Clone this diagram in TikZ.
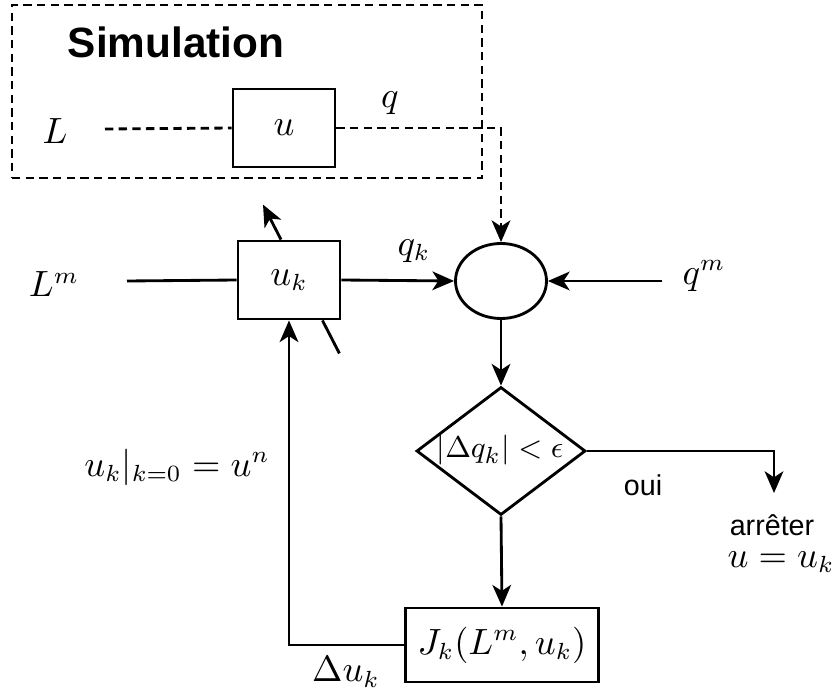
\documentclass[tikz,border=0pt]{standalone}
\usepackage{amsmath,amssymb}
\usepackage{fontspec}
\newfontfamily\arialfont{Liberation Sans}
\usepackage{tikz}
\usetikzlibrary{calc,shapes.geometric,arrows.meta}

\begin{document}
\begin{tikzpicture}[x=0.3pt, y=-0.3pt, >={Stealth[length=6.5pt,width=5.6pt,inset=1.8pt]}, line width=0.85pt,
		block/.style={draw, rectangle, inner sep=0pt, font=\fontsize{10.5}{12}\selectfont},
		lbl/.style={font=\fontsize{10.5}{12}\selectfont, inner sep=1pt},
		txt/.style={font=\arialfont\fontsize{8.6}{10}\selectfont, inner sep=1pt},
		simdash/.style={dash pattern=on 2.5pt off 1.6pt}]
		% 1. 画布
		\useasboundingbox (0,0) rectangle (832,688);
		
		% 2. 仿真框
		\node[draw, simdash, minimum width=141pt, minimum height=51.9pt, inner sep=0pt] (sim) at (247,91.5) {};
		\node[font=\arialfont\bfseries\fontsize{12.7}{15}\selectfont] (simtitle) at (176,42) {Simulation};
		\node[block, minimum width=30.6pt, minimum height=23.4pt] (boxU) at (284,128) {$u$};
		\node[lbl] (labL) at (55,131) {$L$};
		\node[lbl] (labq) at (390,103) {$q$};
		\coordinate (Lin) at (105,129);
		\draw[simdash] (Lin) -- (boxU.west);
		
		% 3. 主回路
		\node[block, minimum width=30.6pt, minimum height=23.4pt] (boxUk) at (289,280) {$u_k$};
		\node[lbl] (labLm) at (54,284) {$L^m$};
		\coordinate (Lmin) at (127,281);
		\draw (Lmin) -- (boxUk.west);
		
		\node[draw, ellipse, minimum width=27.3pt, minimum height=22.5pt, inner sep=0pt] (sum) at (501,281) {};
		\node[lbl] (labqk) at (414,251) {$q_k$};
		\draw[->] (boxUk.east) -- (sum.west);
		\draw[->, simdash] (boxU.east) -| (sum.north);
		
		\node[lbl] (labqm) at (704,276) {$q^m$};
		\coordinate (qmin) at (662,281);
		\draw[->] (qmin) -- (sum.east);
		
		% 4. 判断
		\node[draw, diamond, minimum width=50.7pt, minimum height=38.4pt, inner sep=0pt] (test) at (501,451) {};
		\node[lbl, font=\fontsize{9.4}{11}\selectfont] (testtxt) at (500,450) {$|\Delta q_k| < \epsilon$};
		\draw[->] (sum.south) -- (test.north);
		
		\coordinate (stop) at (774,493);
		\draw[->] (test.east) -| (stop);
		\node[txt] (oui) at (643,485) {oui};
		\node[txt] (arret) at (772,525) {arrêter};
		\node[lbl] (ufin) at (781,562) {$u = u_k$};
		
		% 5. 雅可比与反馈
		\node[block, minimum width=57.9pt, minimum height=22.2pt] (Jbox) at (502,645) {$J_k(L^m, u_k)$};
		\draw[->] (test.south) -- (Jbox.north);
		\draw[->] (Jbox.west) -| (boxUk.south);
		\node[lbl] (labdu) at (346,672) {$\Delta u_k$};
		\node[lbl] (labinit) at (177,467) {$u_k|_{k=0} = u^n$};
		
		% 6. 更新箭头
		\draw[->] ($(boxUk.north)+(-8,0)$) -- ++(-18,-35);
		\draw ($(boxUk.south east)+(-19,0)$) -- ++(17,33);
		
	\end{tikzpicture}
\end{document}
